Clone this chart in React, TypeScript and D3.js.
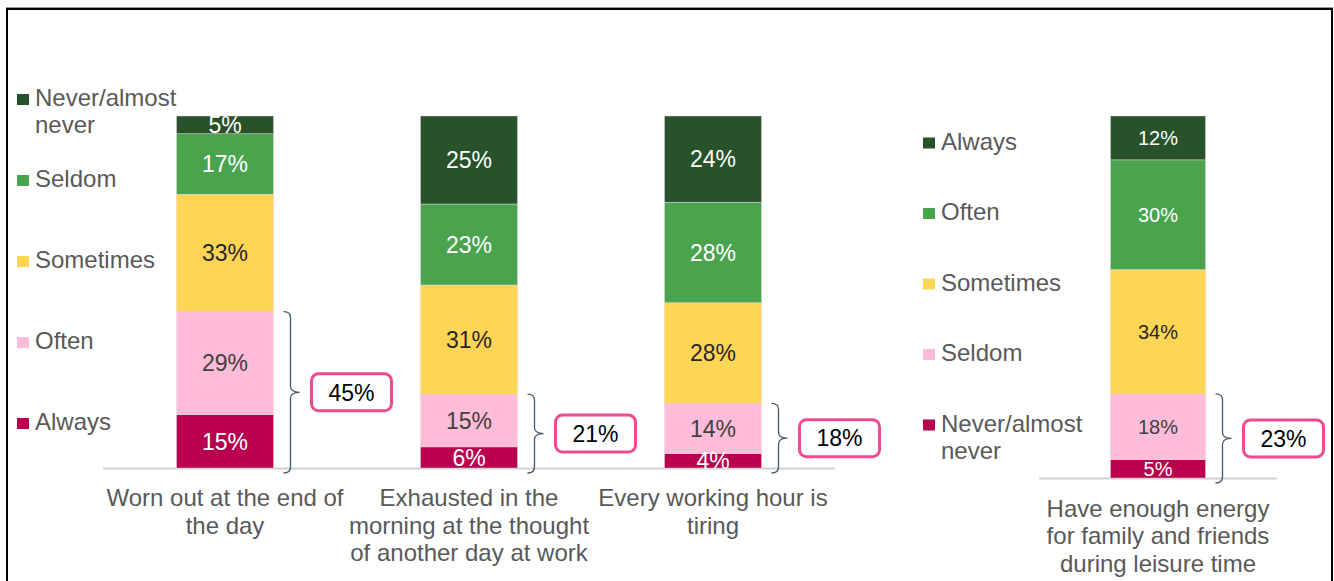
import React from "react";
import * as d3 from "d3";

// ---------- data ----------
const leftCategories = [
  ["Worn out at the end of", "the day"],
  ["Exhausted in the", "morning at the thought", "of another day at work"],
  ["Every working hour is", "tiring"],
];
const leftSeries = ["Always", "Often", "Sometimes", "Seldom", "Never/almost never"];
const leftAlways = [15, 6, 4];
const leftOften = [29, 15, 14];
const leftSometimes = [33, 31, 28];
const leftSeldom = [17, 23, 28];
const leftNever = [5, 25, 24];
const leftHighlight = [45, 21, 18];

const rightCategories = [["Have enough energy", "for family and friends", "during leisure time"]];
const rightSeries = ["Never/almost never", "Seldom", "Sometimes", "Often", "Always"];
const rightNever = [5];
const rightSeldom = [18];
const rightSometimes = [34];
const rightOften = [30];
const rightAlways = [12];
const rightHighlight = [23];

// ---------- styles ----------
const COLORS = ["#b9004e", "#ffbcd8", "#ffd556", "#4aa44e", "#27522a"];
const LABEL_COLORS = ["#ffffff", "#404040", "#262626", "#ffffff", "#ffffff"];
const FONT = "'Liberation Sans', Arial, sans-serif";
const GRAY = "#595959";
const BRACE = "#44546a";
const PINK = "#ef4b8f";

type Panel = {
  cats: string[][];
  series: string[];
  values: number[][];
  highlight: number[];
  xRange: [number, number];
  padInner: number;
  padOuter: number;
  yBottom: number;
  yTop: number;
  valueFont: number;
  legendX: number;
  legendY0: number;
  legendStep: number;
  catY0: number;
};

function rows(p: Panel) {
  return p.cats.map((c, i) => {
    const r: any = { key: c.join(" ") };
    p.series.forEach((s, j) => (r[s] = p.values[j][i]));
    return r;
  });
}

function bracePath(x0: number, x1: number, x2: number, top: number, bot: number) {
  const mid = (top + bot) / 2;
  const r = 6;
  return `M${x0},${top} Q${x1},${top} ${x1},${top + r} L${x1},${mid - r} Q${x1},${mid} ${x2},${mid} Q${x1},${mid} ${x1},${mid + r} L${x1},${bot - r} Q${x1},${bot} ${x0},${bot}`;
}

function PanelView({ p }: { p: Panel }) {
  const data = rows(p);
  const stack = d3.stack<any>().keys(p.series).offset(d3.stackOffsetExpand);
  const layers = stack(data);
  const x = d3
    .scaleBand<string>()
    .domain(data.map((d) => d.key))
    .range(p.xRange)
    .paddingInner(p.padInner)
    .paddingOuter(p.padOuter);
  const y = d3.scaleLinear().domain([0, 1]).range([p.yBottom, p.yTop]);
  const bw = x.bandwidth();

  return (
    <g>
      {/* axis line */}
      <line x1={p.xRange[0]} x2={p.xRange[1]} y1={p.yBottom + 0.5} y2={p.yBottom + 0.5} stroke="#d0d0d0" strokeWidth={2} />
      {/* bars */}
      {layers.map((layer, li) => (
        <g key={layer.key}>
          {layer.map((seg, i) => {
            const key = data[i].key;
            const x0 = x(key)!;
            const y0 = y(seg[1]);
            const y1 = y(seg[0]);
            return (
              <g key={key}>
                <rect x={x0} y={y0} width={bw} height={y1 - y0} fill={COLORS[li]} stroke="#d8d8d8" strokeWidth={0.5} />
              </g>
            );
          })}
        </g>
      ))}
      {layers.map((layer, li) => (
        <g key={"lbl" + layer.key}>
          {layer.map((seg, i) => {
            const key = data[i].key;
            const cx = x(key)! + bw / 2;
            const cy = (y(seg[0]) + y(seg[1])) / 2;
            return (
              <text
                key={key}
                x={cx}
                y={cy}
                dy="0.36em"
                textAnchor="middle"
                fontFamily={FONT}
                fontSize={p.valueFont}
                fill={LABEL_COLORS[li]}
              >
                {data[i][layer.key]}%
              </text>
            );
          })}
        </g>
      ))}
      {/* braces and highlight boxes (Always + Often / Never + Seldom) */}
      {data.map((d, i) => {
        const right = x(d.key)! + bw;
        const top = y(layers[1][i][1]);
        const bot = p.yBottom + 5;
        const mid = (top + bot) / 2;
        const x0 = right + 10;
        const x1 = x0 + 7;
        const x2 = x1 + 9;
        const bx = x2 + 12;
        return (
          <g key={"br" + d.key}>
            <path d={bracePath(x0, x1, x2, top, bot)} fill="none" stroke={BRACE} strokeWidth={1.3} />
            <rect x={bx} y={mid - 18.5} width={80} height={37} rx={7} fill="#ffffff" stroke={PINK} strokeWidth={3} />
            <text x={bx + 40} y={mid} dy="0.36em" textAnchor="middle" fontFamily={FONT} fontSize={23} fill="#000000">
              {p.highlight[i]}%
            </text>
          </g>
        );
      })}
      {/* category labels */}
      {data.map((d, i) => (
        <text key={"cat" + d.key} textAnchor="middle" fontFamily={FONT} fontSize={24} fill={GRAY}>
          {p.cats[i].map((line, k) => (
            <tspan key={k} x={x(d.key)! + bw / 2} y={p.catY0 + k * 27.5}>
              {line}
            </tspan>
          ))}
        </text>
      ))}
      {/* legend (top-down = reverse of stack order) */}
      {[...p.series].reverse().map((s, k) => {
        const li = p.series.length - 1 - k;
        const by = p.legendY0 + k * p.legendStep;
        const lines = s === "Never/almost never" ? ["Never/almost", "never"] : [s];
        return (
          <g key={"lg" + s}>
            <rect x={p.legendX} y={by - 12} width={12} height={11} fill={COLORS[li]} />
            <text fontFamily={FONT} fontSize={24} fill={GRAY}>
              {lines.map((ln, j) => (
                <tspan key={j} x={p.legendX + 18} y={by + j * 27}>
                  {ln}
                </tspan>
              ))}
            </text>
          </g>
        );
      })}
    </g>
  );
}

export default function App() {
  const left: Panel = {
    cats: leftCategories,
    series: leftSeries,
    values: [leftAlways, leftOften, leftSometimes, leftSeldom, leftNever],
    highlight: leftHighlight,
    xRange: [103, 835],
    padInner: 0.6025,
    padOuter: 0.30125,
    yBottom: 468,
    yTop: 116,
    valueFont: 23,
    legendX: 17,
    legendY0: 106,
    legendStep: 81,
    catY0: 506,
  };
  const right: Panel = {
    cats: rightCategories,
    series: rightSeries,
    values: [rightNever, rightSeldom, rightSometimes, rightOften, rightAlways],
    highlight: rightHighlight,
    xRange: [1039, 1277],
    padInner: 0,
    padOuter: 0.7526,
    yBottom: 478,
    yTop: 116,
    valueFont: 20,
    legendX: 923,
    legendY0: 149.5,
    legendStep: 70.5,
    catY0: 516.5,
  };
  return (
    <div style={{ position: "fixed", left: 0, top: 0, width: 1334, height: 581, background: "#fff" }}>
      <svg width={1334} height={581} style={{ display: "block" }}>
        <rect x={0} y={0} width={1334} height={581} fill="#ffffff" />
        <rect x={7} y={9} width={1325} height={620} fill="none" stroke="#000" strokeWidth={2} />
        <line x1={6} x2={1333} y1={7.5} y2={7.5} stroke="#9a9a9a" strokeWidth={1} />
        <PanelView p={left} />
        <PanelView p={right} />
      </svg>
    </div>
  );
}
